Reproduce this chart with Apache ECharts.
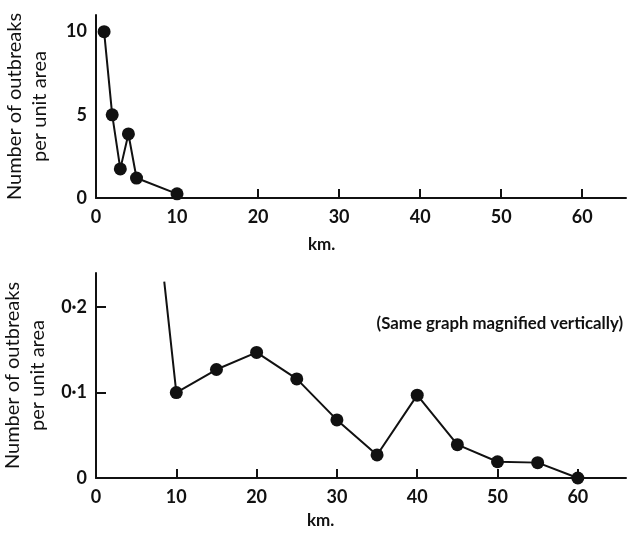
<!DOCTYPE html>
<html>
<head>
<meta charset="utf-8">
<script src="https://cdn.jsdelivr.net/npm/echarts@6/dist/echarts.min.js"></script>
<style>
  html, body { margin: 0; padding: 0; background: #fff; }
  #main { width: 628px; height: 538px; }
</style>
</head>
<body>
<div id="main"></div>
<script>
// distance (km) and outbreaks per unit area
const topKm = [1, 2, 3, 4, 5, 10]
const topValues = [10, 5, 1.75, 3.85, 1.2, 0.25]
// magnified graph: the first point is where the steep line leaves the top of the plot
const lowKm = [8.5, 10, 15, 20, 25, 30, 35, 40, 45, 50, 55, 60]
const lowValues = [0.23, 0.1, 0.127, 0.147, 0.116, 0.068, 0.027, 0.097, 0.039, 0.019, 0.018, 0]
const xTicks = [0, 10, 20, 30, 40, 50, 60]

const font = 'Lato'
const black = '#111'

function xAxisFor (gridIndex, max) {
  return {
    type: 'value', gridIndex, min: 0, max, interval: 10,
    axisLine: { lineStyle: { color: black, width: 2 } },
    axisTick: { inside: true, length: 9, lineStyle: { color: black, width: 2 } },
    axisLabel: {
      color: black, fontFamily: font, fontSize: 18, fontWeight: 'bold', margin: 10,
      showMaxLabel: false,
      formatter: v => xTicks.includes(v) ? String(v) : '',
    },
    splitLine: { show: false },
  }
}

function yAxisFor (gridIndex, max, interval, fmt, ticks) {
  return {
    type: 'value', gridIndex, min: 0, max, interval,
    name: 'Number of outbreaks\nper unit area',
    nameLocation: 'middle', nameGap: 44,
    nameTextStyle: { color: black, fontFamily: font, fontSize: 20, lineHeight: 25 },
    axisLine: { show: true, lineStyle: { color: black, width: 2 } },
    axisTick: { show: ticks, inside: true, length: 10, lineStyle: { color: black, width: 2 } },
    axisLabel: { color: black, fontFamily: font, fontSize: 18, fontWeight: 'bold', margin: 9, showMaxLabel: false, formatter: fmt },
    splitLine: { show: false },
  }
}

const chart = echarts.init(document.getElementById('main'))
chart.setOption({
  backgroundColor: '#fff',
  animation: false,
  grid: [
    { left: 96, top: 15, width: 530, height: 183, outerBoundsMode: 'none' },
    { left: 96, top: 273, width: 530, height: 205, outerBoundsMode: 'none' },
  ],
  xAxis: [xAxisFor(0, 65.4), xAxisFor(1, 66)],
  yAxis: [
    yAxisFor(0, 11, 5, v => String(v), false),
    yAxisFor(1, 0.24, 0.1, v => v === 0 ? '0' : v.toFixed(1).replace('.', '·'), true),
  ],
  graphic: [
    { type: 'text', left: 308, top: 236, style: { text: 'km.', fontFamily: font, fontSize: 17, fontWeight: 'bold', fill: black } },
    { type: 'text', left: 307, top: 512, style: { text: 'km.', fontFamily: font, fontSize: 17, fontWeight: 'bold', fill: black } },
    { type: 'text', right: 5, top: 315, style: { text: '(Same graph magnified vertically)', fontFamily: font, fontSize: 16.8, fontWeight: 'bold', fill: black } },
  ],
  series: [
    {
      type: 'line', xAxisIndex: 0, yAxisIndex: 0,
      data: topKm.map((k, i) => [k, topValues[i]]),
      symbol: 'circle', symbolSize: 13,
      lineStyle: { color: black, width: 2 },
      itemStyle: { color: black },
    },
    {
      type: 'line', xAxisIndex: 1, yAxisIndex: 1,
      data: lowKm.map((k, i) => i === 0
        ? { value: [k, lowValues[i]], symbol: 'none' }
        : [k, lowValues[i]]),
      symbol: 'circle', symbolSize: 13,
      lineStyle: { color: black, width: 2 },
      itemStyle: { color: black },
    },
  ],
})
</script>
</body>
</html>
